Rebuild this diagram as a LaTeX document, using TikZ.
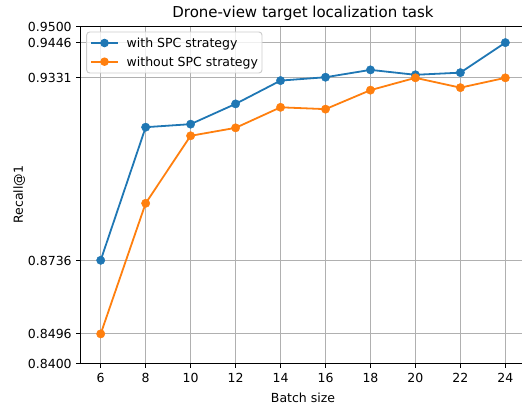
\documentclass[tikz,border=0pt]{standalone}
\usepackage{fontspec}
\setmainfont{DejaVu Sans}
\definecolor{spcblue}{HTML}{1F77B4}
\definecolor{spcorange}{HTML}{FF7F0E}
\definecolor{gridgray}{HTML}{B0B0B0}
\tikzset{
    gridline/.style={gridgray, line width=0.96pt},
    spine/.style={black, line width=0.96pt},
    curve/.style={line width=1.8pt, mark=*, mark size=4.2pt, mark options={line width=0.4pt}},
    ticklabel/.style={font=\fontsize{12.5}{15}\selectfont, inner sep=0pt},
}
\begin{document}
\begin{tikzpicture}[x=1pt, y=1pt]
    \useasboundingbox (0,0) rectangle (522,405);
    \clip (0,0) rectangle (522,405);

    \begin{scope}[x=22.48pt, y=3066pt, shift={(-34.18pt,-2533.74pt)}]
    % Grade
    \foreach \bs in {6,8,...,24}
        \draw[gridline] (\bs,0.84) -- (\bs,0.95);
    \foreach \rc in {0.8496,0.8736,0.9331,0.9446}
        \draw[gridline] (5.1,\rc) -- (24.9,\rc);

    % Curvas
    \draw[curve, spcblue] plot coordinates {(6,0.8736) (8,0.9170) (10,0.9180) (12,0.9246) (14,0.9322)
        (16,0.9333) (18,0.9357) (20,0.9341) (22,0.9348) (24,0.9446)};
    \draw[curve, spcorange] plot coordinates {(6,0.8496) (8,0.8922) (10,0.9142) (12,0.9168) (14,0.9235)
        (16,0.9229) (18,0.9291) (20,0.9331) (22,0.9299) (24,0.9331)};

    % Eixos
    \draw[spine] (5.1,0.84) rectangle (24.9,0.95);
    \foreach \bs in {6,8,...,24} {
        \draw[spine] (\bs,0.84) -- ++(0,-4.2pt);
        \node[ticklabel, anchor=base, yshift=-19.2pt] (xt\bs) at (\bs,0.84) {\bs};
    }
    \foreach \rc in {0.8400,0.8496,0.8736,0.9331,0.9446,0.9500} {
        \draw[spine] (5.1,\rc) -- ++(-4.2pt,0);
        \node[ticklabel, anchor=base east, xshift=-8.6pt, yshift=-5pt] (yt\rc) at (5.1,\rc) {\rc};
    }

    % Titulo e rotulos
    \node[font=\fontsize{15}{18}\selectfont, anchor=base, yshift=8.3pt, inner sep=0pt] (title) at (15,0.95) {Drone-view target localization task};
    \node[ticklabel, anchor=base, yshift=-38.8pt] (xlabel) at (15,0.84) {Batch size};
    \node[ticklabel, anchor=base, xshift=-57.5pt, rotate=90] (ylabel) at (5.1,0.895) {Recall@1};
    \end{scope}

    % Legenda
    \draw[black!20, line width=0.96pt, fill=white, fill opacity=0.8, rounded corners=3pt] (86.7,332) rectangle (262,373);
    \draw[spcblue, line width=1.8pt] (91,362) -- (118,362);
    \fill[spcblue] (104.5,362) circle (4.3pt);
    \node[ticklabel, anchor=base west] (legwith) at (126.5,357.5) {with SPC strategy};
    \draw[spcorange, line width=1.8pt] (91,343.3) -- (118,343.3);
    \fill[spcorange] (104.5,343.3) circle (4.3pt);
    \node[ticklabel, anchor=base west] (legwithout) at (126.5,338.8) {without SPC strategy};
\end{tikzpicture}
\end{document}
